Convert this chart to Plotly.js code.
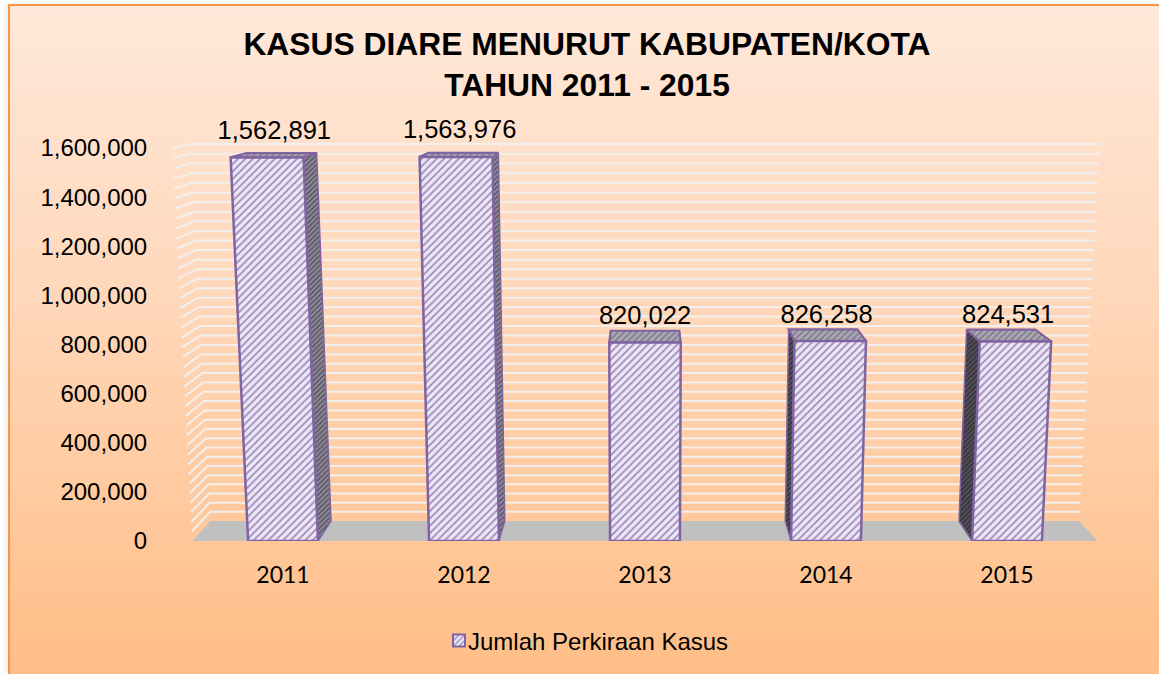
<!DOCTYPE html>
<html><head><meta charset="utf-8">
<script src="https://cdn.plot.ly/plotly-3.0.1.min.js"></script>
<style>
html,body{margin:0;padding:0;background:#fff;width:1159px;height:674px;overflow:hidden}
#frame{position:absolute;left:8px;top:4px;width:1151px;height:670px;box-sizing:border-box;border-top:2px solid #f79646;border-left:2px solid #f79646;background:linear-gradient(180deg,#ffe8d9 0%,#ffd9bd 40%,#ffbe87 100%);box-shadow:-3px -1px 5px rgba(0,0,0,.08)}
#chart{position:absolute;left:0;top:0;width:1159px;height:674px}
</style></head><body>
<div id="frame"></div><div id="chart"></div>
<script>
const categories = ['2011','2012','2013','2014','2015'];
const values = [1562891,1563976,820022,826258,824531];
const seriesName = 'Jumlah Perkiraan Kasus';
const yTicks = [0,200000,400000,600000,800000,1000000,1200000,1400000,1600000];
const yMax = 1600000, gridStep = 40000;
const halfBar = 0.193, centre = 2;

// Simple perspective of the 3D chart box: k = height share, d = depth (0 front, 1 back)
function px(i,v,d){const k=v/yMax;return centre+(i-centre)*(1+0.045*k-0.04*d);}
function py(v,d){const k=v/yMax;return v-48000*k*(1-k)+d*(81400-65400*k);}
function poly(pts){return {x:pts.map(p=>px(p[0],p[1],p[2])),y:pts.map(p=>py(p[1],p[2]))};}
const PURPLE='#8064a2', HATCH='#9a83ba', LILAC='#ebe6f4';
function face(pts,fg,bg,size,sol,lw){
  const g=poly(pts.concat([pts[0]]));
  return {type:'scatter',mode:'lines',x:g.x,y:g.y,fill:'toself',fillcolor:bg,
    fillpattern:{shape:'/',fgcolor:fg,bgcolor:bg,size:size,solidity:sol},
    line:{color:PURPLE,width:lw},hoverinfo:'skip',showlegend:false};
}
const traces=[];
// data bars (legend + hover), covered by the projected faces
traces.push({type:'bar',name:seriesName,x:categories.map((c,i)=>i),y:values,width:0.2,
  marker:{color:LILAC,line:{color:PURPLE,width:2},pattern:{shape:'/',fgcolor:HATCH,bgcolor:LILAC,size:5,solidity:.3}},
  showlegend:true,hovertemplate:'%{y:,}<extra></extra>'});
// gridlines on side wall and back wall
const gx=[],gy=[];
for(let v=gridStep;v<=yMax;v+=gridStep){
  const a=poly([[-0.5,v,0],[-0.5,v,1],[4.5,v,1]]);
  gx.push(...a.x,null);gy.push(...a.y,null);
}
traces.push({type:'scatter',mode:'lines',x:gx,y:gy,line:{color:'#f2f0ee',width:2},hoverinfo:'skip',showlegend:false});
// floor
const fl=poly([[-0.5,0,0],[-0.5,0,1],[4.5,0,1],[4.5,0,0],[-0.5,0,0]]);
traces.push({type:'scatter',mode:'lines',x:fl.x,y:fl.y,fill:'toself',fillcolor:'#c0c0c0',line:{color:'#c0c0c0',width:0},hoverinfo:'skip',showlegend:false});
// bars
values.forEach((v,i)=>{
  const L=i-halfBar,R=i+halfBar;
  if(i<centre) traces.push(face([[R,0,0],[R,v,0],[R,v,1],[R,0,1]],'#55505f','#8e8a97',3.5,.4,1.5));
  if(i>centre) traces.push(face([[L,0,0],[L,v,0],[L,v,1],[L,0,1]],'#2f2c35','#55525c',3.5,.4,1.5));
  traces.push(face([[L,v,0],[L,v,1],[R,v,1],[R,v,0]],'#77718a','#aaa7b0',4.5,.3,2.2));
  traces.push(face([[L,0,0],[L,v,0],[R,v,0],[R,0,0]],HATCH,LILAC,5.2,.3,2.5));
});
// value labels
traces.push({type:'scatter',mode:'text',x:values.map((v,i)=>px(i,v,0.5)),
  y:values.map(v=>py(v,1)+68000*(v/yMax-0.5)),
  text:values.map(v=>v.toLocaleString('en-US')),textposition:'top center',
  textfont:{family:'Liberation Sans',size:25.5,color:'#000'},cliponaxis:false,hoverinfo:'skip',showlegend:false});

// pixel frame of the axes
const pxPerIdx=181, x0px=283, y0px=541, pxPerVal=393/yMax;
const plotL=10, plotR=1159, plotT=100, plotB=y0px;
const xr=[(plotL-x0px)/pxPerIdx,(plotR-x0px)/pxPerIdx];
const yTop=(y0px-plotT)/pxPerVal;
const layout={
  width:1159,height:674,paper_bgcolor:'rgba(0,0,0,0)',plot_bgcolor:'rgba(0,0,0,0)',
  margin:{l:plotL,r:1159-plotR,t:plotT,b:674-plotB,pad:0},
  font:{family:'Liberation Sans',color:'#000'},
  title:{text:'<b>KASUS DIARE MENURUT KABUPATEN/KOTA<br>TAHUN 2011 - 2015</b>',
    font:{family:'Liberation Sans',size:31.8,color:'#000'},x:587/1159,xanchor:'center',y:1-55/674,yanchor:'middle'},
  xaxis:{range:xr,domain:[0,1],showgrid:false,zeroline:false,showline:false,
    tickmode:'array',tickvals:categories.map((c,i)=>i),ticktext:categories,
    ticks:'outside',ticklen:13,tickcolor:'rgba(0,0,0,0)',
    tickfont:{family:'Lato',size:23,color:'#000'}},
  yaxis:{range:[0,yTop],anchor:'free',position:(172-plotL)/(plotR-plotL),showgrid:false,zeroline:false,showline:false,
    tickmode:'array',tickvals:yTicks,tickformat:',',
    ticks:'outside',ticklen:20,tickcolor:'rgba(0,0,0,0)',
    tickfont:{family:'Liberation Sans',size:24,color:'#000'}},
  legend:{x:(428-plotL)/(plotR-plotL),xanchor:'left',y:(plotB-641)/(plotB-plotT),yanchor:'middle',orientation:'h',
    bgcolor:'rgba(0,0,0,0)',font:{family:'Liberation Sans',size:24,color:'#000'}},
  showlegend:true,hovermode:'closest',bargap:0
};
Plotly.newPlot('chart',traces,layout,{displayModeBar:false}).then(()=>{
  // the reference keeps its legend swatch right against the label
  document.querySelectorAll('.legendsymbols').forEach(el=>el.setAttribute('transform','translate(11,0)'));
});
</script></body></html>
